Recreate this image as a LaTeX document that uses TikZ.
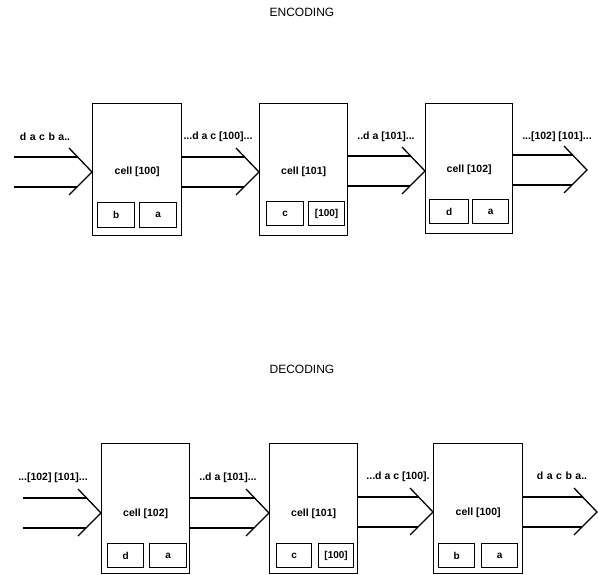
\documentclass[tikz,border=0pt]{standalone}
\usepackage{fontspec}
\setmainfont{Liberation Sans}
\usetikzlibrary{calc}
\tikzset{
  cellbox/.style={draw, line width=1.3pt, anchor=north west, inner sep=0pt},
  slot/.style={draw, line width=1.3pt, anchor=north west, inner sep=0pt, font=\bfseries\fontsize{10}{10}\selectfont},
  conn/.style={line width=1.3pt},
  lbl/.style={font=\bfseries\fontsize{10.5}{11}\selectfont, inner sep=0pt},
  celltxt/.style={font=\bfseries\fontsize{10.5}{11}\selectfont, inner sep=0pt},
  ttl/.style={font=\fontsize{12}{12}\selectfont, inner sep=0pt}
}
\newcommand{\mkarrow}[3]{%
  \coordinate (#1t) at #2;
  \coordinate (#1a) at ($(#1t)+(-23,-24)$);
  \coordinate (#1b) at ($(#1t)+(-23,23)$);
  \coordinate (#1u) at ($(#1t)!0.625!(#1a)$);
  \coordinate (#1l) at ($(#1t)!0.652!(#1b)$);
  \draw[conn] (#1a) -- (#1t) -- (#1b);
  \draw[conn] (#3 |- #1u) -- (#1u);
  \draw[conn] (#3 |- #1l) -- (#1l);
}
\begin{document}
\begin{tikzpicture}[x=1pt,y=-1pt]
\useasboundingbox (0,0) rectangle (598,575);
% titles
\node[ttl] (enc) at (302,12) {ENCODING};
\node[ttl] (dec) at (302,369) {DECODING};
% ===== encoding row =====
\node[cellbox, minimum width=89pt, minimum height=132pt] (e1) at (92,103) {};
\node[cellbox, minimum width=88pt, minimum height=132pt] (e2) at (259,103) {};
\node[cellbox, minimum width=87pt, minimum height=130pt] (e3) at (425,103) {};
\node[celltxt] (e1t) at ($(e1.north)+(0,69)$) {cell [100]};
\node[celltxt] (e2t) at ($(e2.north)+(0,69)$) {cell [101]};
\node[celltxt] (e3t) at ($(e3.north)+(0,67)$) {cell [102]};
\node[slot, minimum width=37pt, minimum height=25pt] (e1b) at (97,202) {b};
\node[slot, minimum width=37pt, minimum height=25pt] (e1a) at (139,202) {a};
\node[slot, minimum width=37pt, minimum height=24pt] (e2c) at (266,201) {c};
\node[slot, minimum width=36pt, minimum height=24pt] (e2n) at (308,201) {[100]};
\node[slot, minimum width=39pt, minimum height=24pt] (e3d) at (429,199) {d};
\node[slot, minimum width=36pt, minimum height=24pt] (e3a) at (472,199) {a};
\coordinate (ein) at (14,172);
\mkarrow{ea}{($(e1.north west)+(0,69)$)}{ein}
\mkarrow{eb}{($(e2.north west)+(0,69)$)}{e1.east}
\mkarrow{ec}{($(e3.north west)+(0,68)$)}{e2.east}
\mkarrow{ed}{(587,170)}{e3.east}
\node[lbl] (el1) at (45,137) {d\,\,a\,\,c\,\,b\,\,a..};
\node[lbl] (el2) at (218,137) {...d a c [100]...};
\node[lbl] (el3) at (386,137) {..d a [101]...};
\node[lbl] (el4) at (557,137) {...[102] [101]...};
% ===== decoding row =====
\node[cellbox, minimum width=88pt, minimum height=130pt] (d1) at (101,443) {};
\node[cellbox, minimum width=88pt, minimum height=130pt] (d2) at (269,443) {};
\node[cellbox, minimum width=89pt, minimum height=130pt] (d3) at (433,443) {};
\node[celltxt] (d1t) at ($(d1.north)+(0,71)$) {cell [102]};
\node[celltxt] (d2t) at ($(d2.north)+(0,71)$) {cell [101]};
\node[celltxt] (d3t) at ($(d3.north)+(0,70)$) {cell [100]};
\node[slot, minimum width=36pt, minimum height=24pt] (d1d) at (107,543) {d};
\node[slot, minimum width=37pt, minimum height=24pt] (d1a) at (149,543) {a};
\node[slot, minimum width=35pt, minimum height=24pt] (d2c) at (276,543) {c};
\node[slot, minimum width=35pt, minimum height=24pt] (d2n) at (318,543) {[100]};
\node[slot, minimum width=36pt, minimum height=24pt] (d3b) at (438,543) {b};
\node[slot, minimum width=36pt, minimum height=24pt] (d3a) at (481,543) {a};
\coordinate (din) at (23,513);
\mkarrow{da}{($(d1.north west)+(0,70)$)}{din}
\mkarrow{db}{($(d2.north west)+(0,70)$)}{d1.east}
\mkarrow{dc}{($(d3.north west)+(0,69)$)}{d2.east}
\mkarrow{dd}{(597,512)}{d3.east}
\node[lbl] (dl1) at (53,478) {...[102] [101]...};
\node[lbl] (dl2) at (228,478) {..d a [101]...};
\node[lbl] (dl3) at (398,477) {...d a c [100].};
\node[lbl] (dl4) at (562,476) {d\,\,a\,\,c\,\,b\,\,a..};
\end{tikzpicture}
\end{document}
